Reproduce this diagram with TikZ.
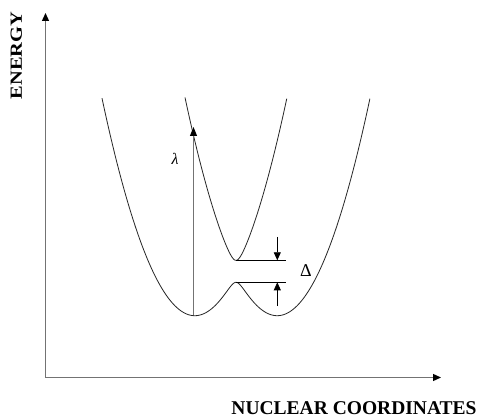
\documentclass[tikz,border=0pt]{standalone}
\usepackage{fontspec}
\setmainfont{Liberation Serif}
\usetikzlibrary{arrows.meta}
\begin{document}
\begin{tikzpicture}[x=1pt,y=-1pt,
  declare function={
    da(\u)=3.15-2.536*(\u-1.945)*(\u-1.945);
    db(\u)=3.15-2.536*(\u-2.775)*(\u-2.775);
    hd(\u)=(da(\u)-db(\u))/2;
    ylow(\u)=(da(\u)+db(\u))/2+sqrt(hd(\u)*hd(\u)+0.0121);
    yup(\u)=(da(\u)+db(\u))/2-sqrt(hd(\u)*hd(\u)+0.0121);
  },
  axis/.style={draw=black!55, line width=1.3pt, -{Triangle[length=8pt,width=7pt,color=black]}},
  curve/.style={draw=black!85, line width=0.8pt},
  lamline/.style={draw=black!55, line width=1pt, -{Triangle[length=9pt,width=7pt,color=black]}},
  gapline/.style={draw=black, line width=0.8pt},
  gaparrow/.style={draw=black, line width=0.8pt, -{Triangle[length=8pt,width=7pt]}},
  lbl/.style={inner sep=0pt, font=\bfseries}
]
\useasboundingbox (0,0) rectangle (484,419);
\fill[white] (0,0) rectangle (484,419);

% axes
\coordinate (O) at (45.5,377.5);
\coordinate (Ytip) at (45.5,13);
\coordinate (Xtip) at (441,377.5);
\draw[axis] (O) -- (Ytip);
\draw[axis] (O) -- (Xtip);

\node[lbl, rotate=90] (energy) at (16.3,55.5)
  {\fontsize{17}{17}\selectfont\scalebox{1.2}[1]{ENERGY}};
\node[lbl, anchor=base] (nuc) at (354,414)
  {\fontsize{19.5}{19.5}\selectfont NUCLEAR COORDINATES};

% potential curves
\draw[curve] plot[domain=1.02:3.70, samples=400] ({100*\x},{100*ylow(\x)});
\draw[curve] plot[domain=1.85:2.87, samples=300] ({100*\x},{100*yup(\x)});

% lambda arrow
\coordinate (L0) at (193.5,315);
\coordinate (L1) at (193.5,127);
\draw[lamline] (L0) -- (L1);
\node[inner sep=0pt] (lam) at (175,159) {\fontsize{16}{16}\selectfont\itshape λ};

% Delta gap
\coordinate (UpMin) at (236,260.3);
\coordinate (UpEnd) at (285.5,260.3);
\coordinate (LoMax) at (236,282.3);
\coordinate (LoEnd) at (285.5,282.3);
\draw[gapline] (UpMin) -- (UpEnd);
\draw[gapline] (LoMax) -- (LoEnd);
\coordinate (DnStart) at (277.3,237);
\coordinate (DnTip) at (277.3,260.3);
\coordinate (UpStart) at (277.3,306);
\coordinate (UpTip) at (277.3,282.3);
\draw[gaparrow] (DnStart) -- (DnTip);
\draw[gaparrow] (UpStart) -- (UpTip);
\node[inner sep=0pt] (delta) at (306,271) {\fontsize{18}{18}\selectfont Δ};
\end{tikzpicture}
\end{document}
